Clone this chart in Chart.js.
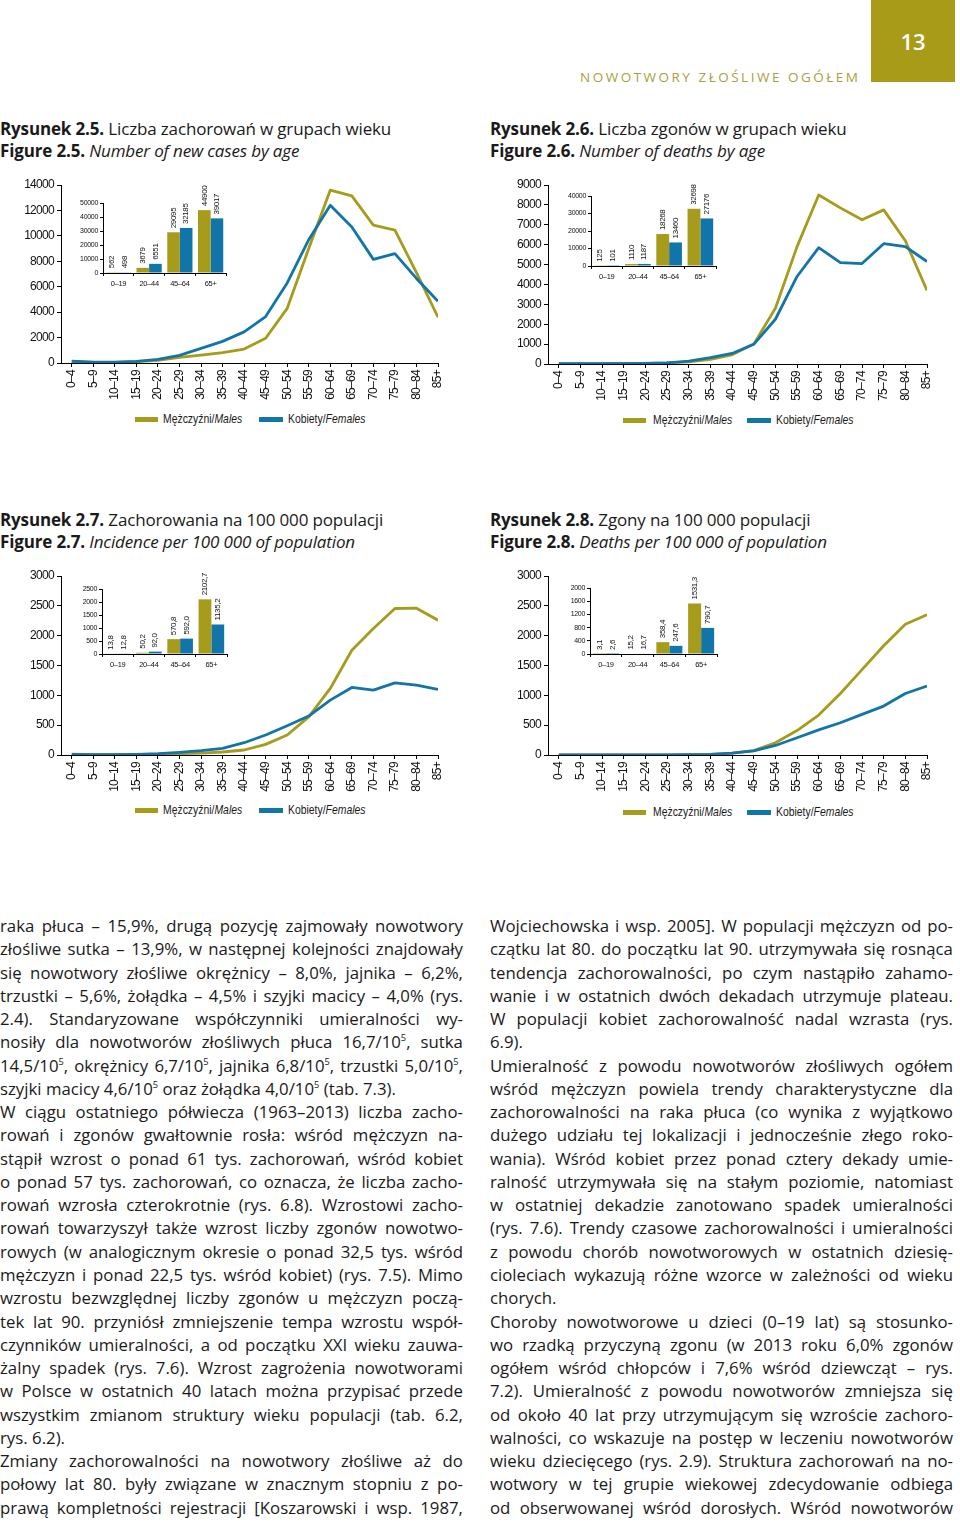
<!DOCTYPE html>
<html><head><meta charset="utf-8">
<script src="https://cdn.jsdelivr.net/npm/chart.js@4.4.1/dist/chart.umd.min.js"></script>
<style>
html,body{margin:0;padding:0;background:#fff;}
body{width:960px;height:1523px;position:relative;overflow:hidden;font-family:'Open Sans',sans-serif;color:#1a1a1a;}
.abs{position:absolute;}
#pagebox{left:871px;top:0;width:84px;height:82px;background:#a89b17;color:#fff;font-size:22px;font-weight:600;display:flex;align-items:center;justify-content:center;}
#running{left:580px;top:68px;font-size:13.5px;letter-spacing:2.5px;color:#a9a03c;white-space:nowrap;}
.cap{font-size:17px;line-height:22px;white-space:nowrap;letter-spacing:-0.15px;}
.cap b{font-weight:700;}
canvas{position:absolute;}
.leg{position:absolute;font-family:'Liberation Sans',Arial,sans-serif;font-size:13px;white-space:nowrap;line-height:14px;color:#1a1a1a;transform:scaleX(0.8);transform-origin:0 50%;}
.sw{position:absolute;height:5px;}
.col{position:absolute;top:914px;width:463px;font-size:16.8px;line-height:23.28px;}
.col .j{display:flex;justify-content:space-between;white-space:nowrap;height:23.28px;}
.col .l{white-space:nowrap;height:23.28px;}
sup{font-size:0.55em;vertical-align:super;line-height:0;}
</style>
</head><body>
<div id="pagebox" class="abs">13</div>
<div id="running" class="abs">NOWOTWORY ZŁOŚLIWE OGÓŁEM</div>

<div class="abs cap" style="left:0;top:118px;"><b>Rysunek 2.5.</b> Liczba zachorowań w grupach wieku<br><b>Figure 2.5.</b> <i>Number of new cases by age</i></div>
<div class="abs cap" style="left:490px;top:118px;"><b>Rysunek 2.6.</b> Liczba zgonów w grupach wieku<br><b>Figure 2.6.</b> <i>Number of deaths by age</i></div>
<div class="abs cap" style="left:0;top:509px;"><b>Rysunek 2.7.</b> Zachorowania na 100 000 populacji<br><b>Figure 2.7.</b> <i>Incidence per 100 000 of population</i></div>
<div class="abs cap" style="left:490px;top:509px;"><b>Rysunek 2.8.</b> Zgony na 100 000 populacji<br><b>Figure 2.8.</b> <i>Deaths per 100 000 of population</i></div>

<canvas id="c1" width="460" height="240" style="left:0;top:170px;"></canvas>
<canvas id="c2" width="480" height="240" style="left:480px;top:170px;"></canvas>
<canvas id="c3" width="460" height="240" style="left:0;top:560px;"></canvas>
<canvas id="c4" width="480" height="240" style="left:480px;top:560px;"></canvas>
<canvas id="i1" width="165" height="125" style="left:70px;top:170px;"></canvas>
<canvas id="i2" width="170" height="125" style="left:555px;top:165px;"></canvas>
<canvas id="i3" width="165" height="120" style="left:70px;top:560px;"></canvas>
<canvas id="i4" width="170" height="120" style="left:555px;top:560px;"></canvas>

<div id="legends"></div>
<div id="text"></div>

<script>
// ---- data ----
const ageLabels = ['0–4','5–9','10–14','15–19','20–24','25–29','30–34','35–39','40–44','45–49','50–54','55–59','60–64','65–69','70–74','75–79','80–84','85+'];
const groupLabels = ['0–19','20–44','45–64','65+'];

const casesMales   = [120, 50, 50, 100, 200, 450, 620, 820, 1100, 1950, 4300, 9000, 13600, 13150, 10850, 10450, 7100, 3600];
const casesFemales = [140, 60, 60, 130, 280, 600, 1150, 1700, 2450, 3650, 6300, 9700, 12400, 10700, 8150, 8600, 6650, 4850];
const casesGroupMales   = [562, 3679, 29095, 44900];
const casesGroupFemales = [498, 6551, 32185, 39017];

const deathsMales   = [20, 15, 15, 25, 35, 55, 110, 230, 460, 1000, 2800, 5900, 8500, 7850, 7250, 7750, 6200, 3700];
const deathsFemales = [15, 12, 12, 20, 30, 60, 140, 320, 530, 990, 2250, 4400, 5850, 5100, 5050, 6050, 5900, 5150];
const deathsGroupMales   = [125, 1110, 18268, 32698];
const deathsGroupFemales = [101, 1187, 13460, 27176];

const incMales   = [14, 5, 5, 8, 12, 22, 33, 50, 84, 178, 335, 640, 1115, 1755, 2120, 2455, 2460, 2260];
const incFemales = [12, 5, 5, 11, 22, 45, 72, 112, 206, 335, 490, 652, 920, 1132, 1088, 1210, 1171, 1098];
const incGroupMales   = [13.8, 50.2, 570.8, 2102.7];
const incGroupFemales = [12.8, 92.0, 592.0, 1135.2];

const mortMales   = [2, 1, 1, 2, 2, 3, 6, 12, 30, 75, 205, 410, 670, 1030, 1430, 1830, 2190, 2350];
const mortFemales = [2, 1, 1, 2, 2, 3, 6, 12, 30, 70, 160, 290, 420, 540, 680, 820, 1030, 1155];
const mortGroupMales   = [3.1, 15.2, 358.4, 1531.3];
const mortGroupFemales = [2.6, 16.7, 247.6, 790.7];

// ---- style ----
const OLIVE = '#a69b1b';
const BLUE = '#1275aa';
const SANS = "'Liberation Sans',Arial,sans-serif";
Chart.defaults.font.family = SANS;
Chart.defaults.color = '#111';

const fmtInt = v => String(v);
const fmtDec = v => v.toFixed(1).replace('.', ',');

// tighter letter spacing to imitate a narrow face
const narrow = {
  id: 'narrow',
  beforeDraw(chart, args, opts) { chart.ctx.letterSpacing = (opts.ls || '-0.5') + 'px'; }
};

function mainChart(id, males, females, yMax, yStep, yW, padTop, padRight, xH) {
  return new Chart(document.getElementById(id), {
    type: 'line',
    data: { datasets: [
      { label: 'Kobiety/Females', data: females.map((v, i) => ({x: i, y: v})), borderColor: BLUE, borderWidth: 2.8, pointRadius: 0, tension: 0, fill: false, borderJoinStyle: 'round' },
      { label: 'Mężczyźni/Males', data: males.map((v, i) => ({x: i, y: v})), borderColor: OLIVE, borderWidth: 2.8, pointRadius: 0, tension: 0, fill: false, borderJoinStyle: 'round' }
    ]},
    options: {
      responsive: false, animation: false, devicePixelRatio: 1,
      layout: { padding: { top: padTop, right: padRight, left: 0, bottom: 0 } },
      plugins: { legend: { display: false }, tooltip: { enabled: false }, narrow: { ls: '-0.7' } },
      scales: {
        x: {
          type: 'linear', min: -0.5, max: 17,
          afterBuildTicks: s => { s.ticks = ageLabels.map((_, i) => ({ value: i })); },
          afterFit: s => { s.height = xH; },
          ticks: { callback: v => ageLabels[v], minRotation: 90, maxRotation: 90, autoSkip: false, padding: 3, font: { size: 12 }, color: '#111' },
          grid: { drawOnChartArea: false, drawTicks: true, tickLength: 4, color: '#000' },
          border: { color: '#000', width: 1 }
        },
        y: {
          min: 0, max: yMax,
          afterFit: s => { s.width = yW; },
          ticks: { stepSize: yStep, padding: 3, font: { size: 12 }, callback: v => String(v), color: '#111' },
          grid: { drawOnChartArea: false, drawTicks: true, tickLength: 4, color: '#000' },
          border: { color: '#000', width: 1 }
        }
      }
    },
    plugins: [narrow]
  });
}

const valueLabels = {
  id: 'valueLabels',
  afterDatasetsDraw(chart, args, opts) {
    const ctx = chart.ctx;
    ctx.save();
    ctx.font = '8px ' + SANS;
    ctx.letterSpacing = '-0.35px';
    ctx.fillStyle = '#111';
    chart.data.datasets.forEach((ds, di) => {
      const meta = chart.getDatasetMeta(di);
      meta.data.forEach((bar, i) => {
        const txt = opts.fmt(ds.data[i]);
        ctx.save();
        ctx.translate(bar.x, bar.y - 4);
        ctx.rotate(-Math.PI / 2);
        ctx.textAlign = 'left';
        ctx.textBaseline = 'middle';
        ctx.fillText(txt, 0, 0);
        ctx.restore();
      });
    });
    ctx.restore();
  }
};

function insetChart(id, males, females, yMax, yStep, yW, padTop, padRight, xH, fmt) {
  return new Chart(document.getElementById(id), {
    type: 'bar',
    data: { labels: groupLabels, datasets: [
      { data: males, backgroundColor: OLIVE },
      { data: females, backgroundColor: BLUE }
    ]},
    options: {
      responsive: false, animation: false, devicePixelRatio: 1,
      categoryPercentage: 0.82, barPercentage: 1,
      layout: { padding: { top: padTop, right: padRight, left: 0, bottom: 0 } },
      plugins: { legend: { display: false }, tooltip: { enabled: false }, valueLabels: { fmt }, narrow: { ls: '-0.3' } },
      scales: {
        x: {
          afterFit: s => { s.height = xH; },
          ticks: { font: { size: 7.5 }, padding: 3, maxRotation: 0, color: '#111' },
          grid: { drawOnChartArea: false, tickLength: 3, color: '#000', offset: true },
          border: { color: '#000', width: 1 }
        },
        y: {
          min: 0, max: yMax,
          afterFit: s => { s.width = yW; },
          ticks: { stepSize: yStep, font: { size: 7 }, padding: 2, callback: v => String(v), color: '#111' },
          grid: { drawOnChartArea: false, tickLength: 3, color: '#000' },
          border: { color: '#000', width: 1 }
        }
      }
    },
    plugins: [narrow, valueLabels]
  });
}

mainChart('c1', casesMales, casesFemales, 14000, 2000, 61, 15, 22, 47);
mainChart('c2', deathsMales, deathsFemales, 9000, 1000, 68, 15, 33, 46);
mainChart('c3', incMales, incFemales, 3000, 500, 61, 16, 22, 45);
mainChart('c4', mortMales, mortFemales, 3000, 500, 68, 16, 33, 45);

insetChart('i1', casesGroupMales, casesGroupFemales, 50000, 10000, 33, 33, 9, 22, fmtInt);
insetChart('i2', deathsGroupMales, deathsGroupFemales, 40000, 10000, 36, 31, 9, 24, fmtInt);
insetChart('i3', incGroupMales, incGroupFemales, 2500, 500, 32, 29, 8, 26, fmtDec);
insetChart('i4', mortGroupMales, mortGroupFemales, 2000, 400, 35, 28, 8, 26, fmtDec);

// ---- legends ----
function legend(y, ox, bx, otx, btx) {
  const L = document.getElementById('legends');
  L.insertAdjacentHTML('beforeend',
    `<div class="sw" style="left:${ox}px;top:${y-2.5}px;width:23px;background:${OLIVE}"></div>` +
    `<div class="leg" style="left:${otx}px;top:${y-7}px;">Mężczyźni/<i>Males</i></div>` +
    `<div class="sw" style="left:${bx}px;top:${y-2.5}px;width:24px;background:${BLUE}"></div>` +
    `<div class="leg" style="left:${btx}px;top:${y-7}px;">Kobiety/<i>Females</i></div>`);
}
legend(419, 135, 259, 163, 288);
legend(420, 623, 747, 653, 776);
legend(810, 135, 259, 163, 288);
legend(812, 623, 747, 653, 776);

// ---- body text ----
const leftLines = [
 ['raka płuca – 15,9%, drugą pozycję zajmowały nowotwory'],
 ['złośliwe sutka – 13,9%, w następnej kolejności znajdowały'],
 ['się nowotwory złośliwe okrężnicy – 8,0%, jajnika – 6,2%,'],
 ['trzustki – 5,6%, żołądka – 4,5% i szyjki macicy – 4,0% (rys.'],
 ['2.4). Standaryzowane współczynniki umieralności wy-'],
 ['nosiły dla nowotworów złośliwych płuca 16,7/10<sup>5</sup>, sutka'],
 ['14,5/10<sup>5</sup>, okrężnicy 6,7/10<sup>5</sup>, jajnika 6,8/10<sup>5</sup>, trzustki 5,0/10<sup>5</sup>,'],
 ['szyjki macicy 4,6/10<sup>5</sup> oraz żołądka 4,0/10<sup>5</sup> (tab. 7.3).', 1],
 ['W ciągu ostatniego półwiecza (1963–2013) liczba zacho-'],
 ['rowań i zgonów gwałtownie rosła: wśród mężczyzn na-'],
 ['stąpił wzrost o ponad 61 tys. zachorowań, wśród kobiet'],
 ['o ponad 57 tys. zachorowań, co oznacza, że liczba zacho-'],
 ['rowań wzrosła czterokrotnie (rys. 6.8). Wzrostowi zacho-'],
 ['rowań towarzyszył także wzrost liczby zgonów nowotwo-'],
 ['rowych (w analogicznym okresie o ponad 32,5 tys. wśród'],
 ['mężczyzn i ponad 22,5 tys. wśród kobiet) (rys. 7.5). Mimo'],
 ['wzrostu bezwzględnej liczby zgonów u mężczyzn począ-'],
 ['tek lat 90. przyniósł zmniejszenie tempa wzrostu współ-'],
 ['czynników umieralności, a od początku XXI wieku zauwa-'],
 ['żalny spadek (rys. 7.6). Wzrost zagrożenia nowotworami'],
 ['w Polsce w ostatnich 40 latach można przypisać przede'],
 ['wszystkim zmianom struktury wieku populacji (tab. 6.2,'],
 ['rys. 6.2).', 1],
 ['Zmiany zachorowalności na nowotwory złośliwe aż do'],
 ['połowy lat 80. były związane w znacznym stopniu z po-'],
 ['prawą kompletności rejestracji [Koszarowski i wsp. 1987,']
];
const rightLines = [
 ['Wojciechowska i wsp. 2005]. W populacji mężczyzn od po-'],
 ['czątku lat 80. do początku lat 90. utrzymywała się rosnąca'],
 ['tendencja zachorowalności, po czym nastąpiło zahamo-'],
 ['wanie i w ostatnich dwóch dekadach utrzymuje plateau.'],
 ['W populacji kobiet zachorowalność nadal wzrasta (rys.'],
 ['6.9).', 1],
 ['Umieralność z powodu nowotworów złośliwych ogółem'],
 ['wśród mężczyzn powiela trendy charakterystyczne dla'],
 ['zachorowalności na raka płuca (co wynika z wyjątkowo'],
 ['dużego udziału tej lokalizacji i jednocześnie złego roko-'],
 ['wania). Wśród kobiet przez ponad cztery dekady umie-'],
 ['ralność utrzymywała się na stałym poziomie, natomiast'],
 ['w ostatniej dekadzie zanotowano spadek umieralności'],
 ['(rys. 7.6). Trendy czasowe zachorowalności i umieralności'],
 ['z powodu chorób nowotworowych w ostatnich dziesię-'],
 ['cioleciach wykazują różne wzorce w zależności od wieku'],
 ['chorych.', 1],
 ['Choroby nowotworowe u dzieci (0–19 lat) są stosunko-'],
 ['wo rzadką przyczyną zgonu (w 2013 roku 6,0% zgonów'],
 ['ogółem wśród chłopców i 7,6% wśród dziewcząt – rys.'],
 ['7.2). Umieralność z powodu nowotworów zmniejsza się'],
 ['od około 40 lat przy utrzymującym się wzroście zachoro-'],
 ['walności, co wskazuje na postęp w leczeniu nowotworów'],
 ['wieku dziecięcego (rys. 2.9). Struktura zachorowań na no-'],
 ['wotwory w tej grupie wiekowej zdecydowanie odbiega'],
 ['od obserwowanej wśród dorosłych. Wśród nowotworów']
];
function renderCol(lines, left) {
  const col = document.createElement('div');
  col.className = 'col';
  col.style.left = left + 'px';
  lines.forEach(([txt, last]) => {
    const d = document.createElement('div');
    if (last) { d.className = 'l'; d.innerHTML = txt; }
    else { d.className = 'j'; d.innerHTML = txt.split(' ').map(w => '<span>' + w + '</span>').join(''); }
    col.appendChild(d);
  });
  document.getElementById('text').appendChild(col);
}
renderCol(leftLines, 0);
renderCol(rightLines, 490);
// squeeze lines that would not fit the column with a minimal word gap
document.querySelectorAll('.col .j').forEach(d => {
  const spans = Array.from(d.children);
  let w = 0; spans.forEach(s => { w += s.getBoundingClientRect().width; });
  const need = w + (spans.length - 1) * 3.2;
  if (need > 463) {
    const chars = d.textContent.length;
    d.style.letterSpacing = (-(need - 463) / chars).toFixed(3) + 'px';
  }
});
</script>
</body></html>
